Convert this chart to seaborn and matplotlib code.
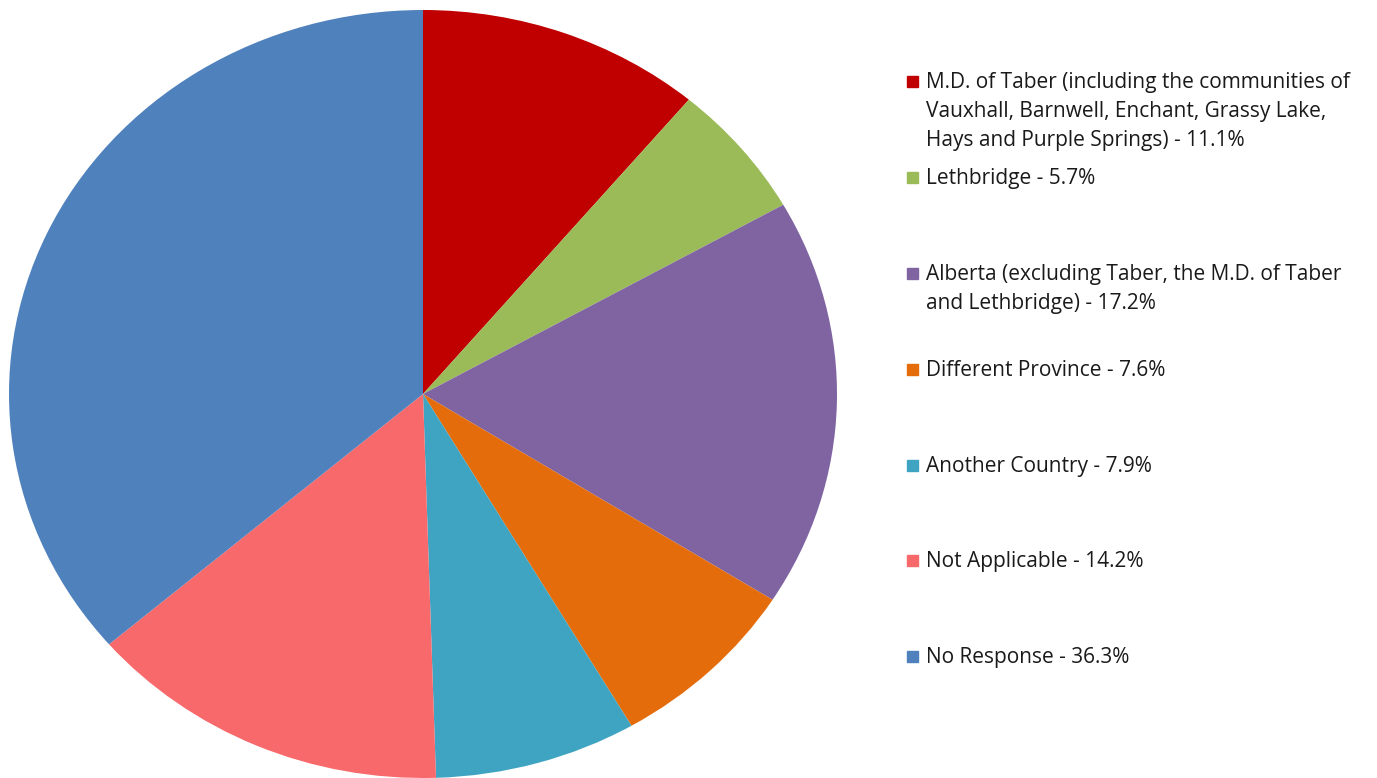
import matplotlib.pyplot as plt
import matplotlib.patches as mpatches
import seaborn as sns

labels = [
    "M.D. of Taber (including the communities of\nVauxhall, Barnwell, Enchant, Grassy Lake,\nHays and Purple Springs) - 11.1%",
    "Lethbridge - 5.7%",
    "Alberta (excluding Taber, the M.D. of Taber\nand Lethbridge) - 17.2%",
    "Different Province - 7.6%",
    "Another Country - 7.9%",
    "Not Applicable - 14.2%",
    "No Response - 36.3%",
]
shares = [11.1, 5.7, 17.2, 7.6, 7.9, 14.2, 36.3]
colors = ["#C00000", "#9BBB59", "#8064A2", "#E46C0A", "#3FA4C1", "#F8696B", "#4F81BD"]

sns.set_theme(style="white")
plt.rcParams['font.family'] = ['Open Sans', 'DejaVu Sans']
pal = sns.color_palette(colors)

W, H = 1377, 778
fig = plt.figure(figsize=(W / 100, H / 100), dpi=100)

# pie is slightly stretched horizontally in the original
ax = fig.add_axes([9 / W, 0, 828 / W, 768 / H])
ax.pie(shares, colors=pal, startangle=90, counterclock=False,
       wedgeprops={'linewidth': 0})
ax.set_aspect('auto')
ax.set_xlim(-1, 1)
ax.set_ylim(-1, 1)
ax.axis('off')

# legend, drawn by hand to keep the uneven spacing
first_y = [81, 177, 273, 369, 465, 560, 656]
for lab, c, y in zip(labels, pal, first_y):
    fig.patches.append(mpatches.Rectangle((907 / W, 1 - (y + 6) / H), 11 / W, 11 / H,
                                          transform=fig.transFigure, color=c))
    fig.text(926 / W, 1 - (y - 9) / H, lab, fontsize=15, color="#1a1a1a",
             va='top', ha='left', linespacing=1.5)

plt.savefig("out.png", dpi=100)
